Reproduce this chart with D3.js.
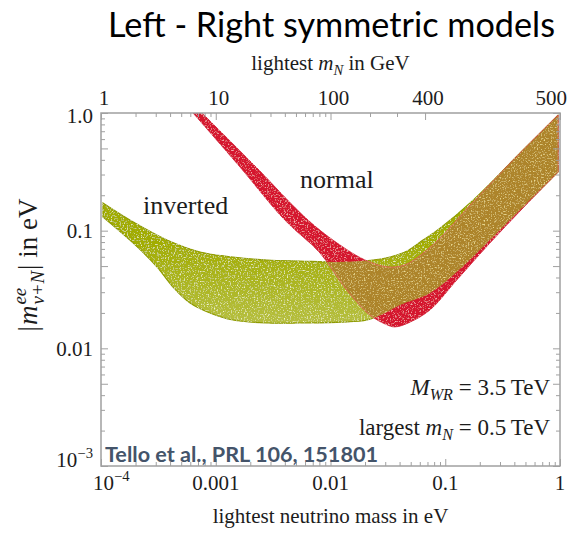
<!DOCTYPE html>
<html>
<head>
<meta charset="utf-8">
<script src="https://cdn.jsdelivr.net/npm/d3@7"></script>
<style>
  html, body { margin: 0; padding: 0; background: #fff; }
  svg { display: block; }
  .serif { font-family: "Liberation Serif", "Times New Roman", serif; fill: #1c1c1c; }
</style>
</head>
<body>
<svg id="chart" width="568" height="534"></svg>
<script>
// Band edges: lightest neutrino mass (eV) vs. effective |m_ee| (eV)
// Inverted hierarchy
const invUpperMass = [1.04e-4, 1.9e-4, 3.76e-4, 7.3e-4, 1.41e-3, 2.8e-3, 5.4e-3, 0.0121, 0.0234, 0.033, 0.0464, 0.064, 0.090, 0.175, 0.476, 0.962];
const invUpperMee  = [0.172, 0.119, 0.0833, 0.0659, 0.0598, 0.0563, 0.0552, 0.0542, 0.0563, 0.0598, 0.0672, 0.0833, 0.105, 0.182, 0.485, 0.962];
const invLowerMass = [1.04e-4, 1.9e-4, 3.08e-4, 4.24e-4, 5.97e-4, 8.9e-4, 1.41e-3, 2.8e-3, 5.4e-3, 0.0121, 0.0208, 0.0299, 0.0404, 0.0736, 0.126, 0.245, 0.476, 0.962];
const invLowerMee  = [0.1306, 0.0786, 0.0491, 0.0332, 0.0243, 0.0200, 0.0174, 0.0164, 0.0164, 0.0167, 0.0174, 0.0200, 0.0233, 0.0295, 0.0445, 0.0833, 0.159, 0.315];
// Normal hierarchy
const normUpperMass = [7.59e-4, 2.2e-3, 6.37e-3, 0.0121, 0.020, 0.0310, 0.0446, 0.078, 0.175, 0.476, 0.962];
const normUpperMee  = [1.0, 0.354, 0.123, 0.0755, 0.0563, 0.0491, 0.0511, 0.0755, 0.175, 0.485, 0.962];
const normLowerMass = [6.34e-4, 1.6e-3, 4.0e-3, 8.1e-3, 0.0139, 0.0221, 0.0299, 0.0365, 0.0493, 0.0736, 0.126, 0.245, 0.476, 0.962];
const normLowerMee  = [1.0, 0.354, 0.123, 0.0646, 0.0313, 0.0192, 0.0161, 0.0152, 0.0167, 0.0212, 0.0381, 0.0786, 0.156, 0.315];

// Axis ticks and labels
const xTickVals = [1e-4, 1e-3, 1e-2, 0.1, 1];
const xTickText = ["10", "0.001", "0.01", "0.1", "1"];
const xTickExp  = ["\u22124", "", "", "", ""];
const yTickVals = [1, 0.1, 0.01, 0.001];
const yTickText = ["1.0", "0.1", "0.01", "10"];
const yTickExp  = ["", "", "", "\u22123"];
const yMajorTicks = [1, 0.5, 0.1, 0.05, 0.01, 0.005, 0.001];
// Top axis: lightest heavy neutrino mass (GeV) at the matching light-neutrino mass
const topTickText = ["1", "10", "100", "400", "500"];
const topTickAt   = [1e-4, 1e-3, 1e-2, 0.0667, 1];
const topExtraMinorAt = [0.0221, 0.038];   // 200 and 300 GeV

const W = 568, H = 534;
const plot = { left: 101, right: 560, top: 113, bottom: 466 };
const svg = d3.select("#chart");
const defs = svg.append("defs");

const x = d3.scaleLog().domain([1e-4, 1]).range([plot.left, plot.right]);
const y = d3.scaleLog().domain([1e-3, 1]).range([plot.bottom, plot.top]);

// ---- texture filters for the scatter-filled bands ----
function speckle(id, rgb, freq, gain, thresh, seed) {
  const f = defs.append("filter").attr("id", id).attr("filterUnits", "userSpaceOnUse")
    .attr("x", 0).attr("y", 0).attr("width", W).attr("height", H);
  f.append("feTurbulence").attr("type", "fractalNoise").attr("baseFrequency", freq)
    .attr("numOctaves", 2).attr("seed", seed).attr("result", "noise");
  f.append("feColorMatrix").attr("in", "noise").attr("type", "matrix")
    .attr("values", `0 0 0 0 ${rgb[0]}  0 0 0 0 ${rgb[1]}  0 0 0 0 ${rgb[2]}  ${gain} 0 0 0 ${-gain * thresh}`)
    .attr("result", "dots");
  f.append("feComposite").attr("in", "dots").attr("in2", "SourceGraphic").attr("operator", "in").attr("result", "inside");
  const m = f.append("feMerge");
  m.append("feMergeNode").attr("in", "SourceGraphic");
  m.append("feMergeNode").attr("in", "inside");
}
speckle("speckleGreen", [0.9, 0.93, 0.62], 0.7, 3.2, 0.55, 3);
speckle("speckleRed", [0.96, 0.55, 0.55], 0.7, 3.2, 0.55, 7);
speckle("speckleMix", [0.86, 0.74, 0.3], 0.7, 3.2, 0.54, 11);

const gGrad = defs.append("linearGradient").attr("id", "greenShade")
  .attr("gradientUnits", "userSpaceOnUse").attr("x1", 0).attr("y1", 240).attr("x2", 0).attr("y2", 328);
gGrad.append("stop").attr("offset", 0).attr("stop-color", "#a1ac00");
gGrad.append("stop").attr("offset", 1).attr("stop-color", "#b7c043");

defs.append("clipPath").attr("id", "plotClip").append("rect")
  .attr("x", plot.left).attr("y", plot.top)
  .attr("width", plot.right - plot.left).attr("height", plot.bottom - plot.top);

// ---- bands ----
const edge = d3.line().curve(d3.curveCatmullRom.alpha(0.5));
function bandPath(uM, uV, lM, lV) {
  const up = uM.map((m, i) => [x(m), y(uV[i])]);
  const lo = lM.map((m, i) => [x(m), y(lV[i])]).reverse();
  return edge(up) + edge(lo).replace(/^M/, "L") + "Z";
}
const invPath = bandPath(invUpperMass, invUpperMee, invLowerMass, invLowerMee);
const normPath = bandPath(normUpperMass, normUpperMee, normLowerMass, normLowerMee);

defs.append("clipPath").attr("id", "invClip").append("path").attr("d", invPath);

const bands = svg.append("g").attr("clip-path", "url(#plotClip)");

bands.append("g").attr("filter", "url(#speckleGreen)")
  .append("path").attr("d", invPath)
  .attr("fill", "url(#greenShade)").attr("stroke", "#8f9b00").attr("stroke-width", 1.1);

bands.append("g").attr("filter", "url(#speckleRed)")
  .append("path").attr("d", normPath)
  .attr("fill", "#d5152f").attr("stroke", "#cf1b33").attr("stroke-width", 0.8);

bands.append("g").attr("filter", "url(#speckleMix)")
  .append("path").attr("d", normPath).attr("clip-path", "url(#invClip)")
  .attr("fill", "#ad842a");

bands.append("path").attr("d", normPath).attr("fill", "none")
  .attr("stroke", "#e07a60").attr("stroke-width", 0.9).attr("opacity", 0.8)
  .attr("clip-path", "url(#invClip)");

// ---- frame and ticks ----
const frameColor = "#a0a0a0";
function styleAxis(g) {
  g.select(".domain").remove();
  g.selectAll("line").attr("stroke", frameColor).attr("stroke-width", 1);
}
const near = (a, list) => list.some(b => Math.abs(a - b) / b < 1e-6);
const yMinor = y.ticks().filter(v => !near(v, yMajorTicks));
const xMinor = x.ticks().filter(v => !near(v, xTickVals));
const topMinor = x.ticks().filter(v => v < 0.0101 && !near(v, topTickAt)).concat(topExtraMinorAt);

[[d3.axisLeft, plot.left], [d3.axisRight, plot.right]].forEach(([ax, pos]) => {
  svg.append("g").attr("transform", `translate(${pos},0)`)
    .call(ax(y).tickValues(yMajorTicks).tickSize(-7).tickFormat("")).call(styleAxis);
  svg.append("g").attr("transform", `translate(${pos},0)`)
    .call(ax(y).tickValues(yMinor).tickSize(-4).tickFormat("")).call(styleAxis);
});
svg.append("g").attr("transform", `translate(0,${plot.bottom})`)
  .call(d3.axisBottom(x).tickValues(xTickVals).tickSize(-7).tickFormat("")).call(styleAxis);
svg.append("g").attr("transform", `translate(0,${plot.bottom})`)
  .call(d3.axisBottom(x).tickValues(xMinor).tickSize(-4).tickFormat("")).call(styleAxis);
svg.append("g").attr("transform", `translate(0,${plot.top})`)
  .call(d3.axisTop(x).tickValues(topTickAt).tickSize(-7).tickFormat("")).call(styleAxis);
svg.append("g").attr("transform", `translate(0,${plot.top})`)
  .call(d3.axisTop(x).tickValues(topMinor).tickSize(-4).tickFormat("")).call(styleAxis);

svg.append("rect").attr("x", plot.left).attr("y", plot.top)
  .attr("width", plot.right - plot.left).attr("height", plot.bottom - plot.top)
  .attr("fill", "none").attr("stroke", frameColor).attr("stroke-width", 1.5);

// ---- rich text helper (italic pieces, sub/superscripts) ----
function rich(parent, px, py, parts, anchor, size, cls) {
  const g = parent.append("g").attr("class", cls || "serif");
  let cx = 0, stackStart = 0;
  parts.forEach(p => {
    const fs = p.small ? size * 0.7 : size;
    const start = p.stack ? stackStart : cx;
    const t = g.append("text").attr("x", start + (p.dx || 0)).attr("y", p.dy || 0)
      .attr("font-size", fs).attr("font-style", p.it ? "italic" : null)
      .attr("xml:space", "preserve").text(p.t);
    const w = t.node().getComputedTextLength() + (p.dx || 0);
    if (p.stack) cx = Math.max(cx, stackStart + w);
    else { stackStart = start; cx = start + w; }
  });
  const off = anchor === "middle" ? -cx / 2 : anchor === "end" ? -cx : 0;
  g.attr("transform", `translate(${px + off},${py})`);
  return g;
}

const tickSize = 21;
// bottom tick labels
xTickVals.forEach((v, i) => {
  const parts = [{ t: xTickText[i] }];
  if (xTickExp[i]) parts.push({ t: xTickExp[i], small: true, dy: -9 });
  const anchor = i === 0 ? "start" : "middle";
  rich(svg, x(v) + (i === 0 ? -8 : 0), 490, parts, anchor, tickSize);
});
// left tick labels
yTickVals.forEach((v, i) => {
  const parts = [{ t: yTickText[i] }];
  if (yTickExp[i]) parts.push({ t: yTickExp[i], small: true, dy: -9 });
  const base = Math.min(Math.max(y(v) + 7.5, plot.top + 10), plot.bottom + 1);
  rich(svg, 93, base, parts, "end", tickSize);
});
// top tick labels
topTickAt.forEach((v, i) => {
  const last = i === topTickAt.length - 1;
  rich(svg, x(v) + (last ? 7 : 3), 105, [{ t: topTickText[i] }], last ? "end" : "middle", tickSize);
});

// axis titles
rich(svg, (plot.left + plot.right) / 2, 523,
  [{ t: "lightest neutrino mass in eV" }], "middle", 21);
rich(svg, (plot.left + plot.right) / 2, 70,
  [{ t: "lightest " }, { t: "m", it: true }, { t: "N", it: true, small: true, dy: 5 }, { t: " in GeV" }],
  "middle", 21);
const yTitle = svg.append("g").attr("transform", "translate(37,265) rotate(-90)");
rich(yTitle, 0, 0,
  [{ t: "|" }, { t: "m", it: true, dx: 1 },
   { t: "ee", it: true, small: true, dy: -11, dx: 1 },
   { t: "\u03bd+N", it: true, small: true, dy: 7, stack: true, dx: 1 },
   { t: "|", dx: 1 }, { t: " in eV" }],
  "middle", 27);

// in-plot annotations
rich(svg, 143, 214, [{ t: "inverted" }], "start", 26);
rich(svg, 300, 188, [{ t: "normal" }], "start", 26);
rich(svg, 550, 395,
  [{ t: "M", it: true }, { t: "WR", it: true, small: true, dy: 5 }, { t: " = 3.5\u2009TeV" }],
  "end", 23);
rich(svg, 550, 435,
  [{ t: "largest " }, { t: "m", it: true }, { t: "N", it: true, small: true, dy: 5 }, { t: " = 0.5\u2009TeV" }],
  "end", 23);

svg.append("text").attr("x", 105).attr("y", 462)
  .attr("font-family", "Lato, 'Open Sans', sans-serif").attr("font-weight", 700)
  .attr("font-size", 21).attr("fill", "#44546a")
  .attr("textLength", 273).attr("lengthAdjust", "spacingAndGlyphs")
  .text("Tello et al., PRL 106, 151801");

// title
svg.append("text").attr("x", 108).attr("y", 37)
  .attr("font-family", "Lato, 'Open Sans', sans-serif")
  .attr("font-size", 34).attr("fill", "#000")
  .attr("textLength", 447).attr("lengthAdjust", "spacingAndGlyphs")
  .text("Left - Right symmetric models");
</script>
</body>
</html>
